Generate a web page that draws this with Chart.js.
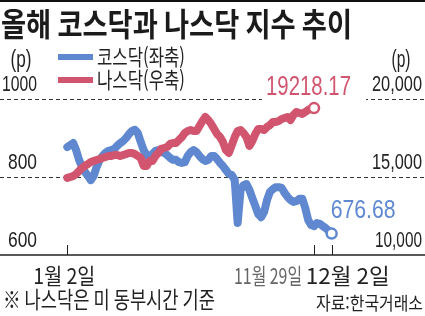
<!DOCTYPE html>
<html lang="ko">
<head>
<meta charset="utf-8">
<script src="https://cdn.jsdelivr.net/npm/chart.js@4.4.1/dist/chart.umd.min.js"></script>
<style>
  html, body { margin: 0; padding: 0; background: #fff; }
  #wrap { width: 425px; height: 316px; }
</style>
</head>
<body>
<div id="wrap"><canvas id="myChart" width="425" height="316"></canvas></div>
<script>
const titleText = '올해 코스닥과 나스닥 지수 추이';
const seriesNames = ['코스닥(좌축)', '나스닥(우축)'];
const leftTicks = [600, 800, 1000];
const rightTicks = [10000, 15000, 20000];
const rightTickText = ['10,000', '15,000', '20,000'];
const dateLabels = ['1월 2일', '11월 29일', '12월 2일'];
const dateIndex = [0, 84, 90];
const noteText = '※ 나스닥은 미 동부시간 기준';
const sourceText = '자료:한국거래소';
const lastKosdaqText = '676.68';
const lastNasdaqText = '19218.17';

// 코스닥 (좌축), 1월 2일 ~ 12월 2일
const kosdaq = [
  877, 882, 887, 869, 844, 826, 813, 803, 792, 803,
  826, 844, 854, 862, 867, 869, 872, 880, 887, 892,
  900, 910, 918, 921, 913, 890, 869, 856, 851, 859,
  867, 869, 864, 862, 856, 849, 844, 844, 838, 836,
  838, 854, 864, 869, 864, 854, 846, 841, 844, 854,
  854, 846, 836, 828, 818, 808, 805, 792, 682, 767,
  779, 782, 767, 746, 726, 705, 697, 710, 741, 762,
  769, 774, 774, 772, 759, 749, 741, 736, 738, 744,
  744, 721, 690, 677, 674, 682, 680, 674, 669, 662, 655
];

// 나스닥 (우축), 1월 2일 ~ 11월 29일
const nasdaq = [
  14940, 15000, 15060, 15190, 15390, 15580, 15710, 15830, 15960, 16030,
  16090, 16150, 16220, 16280, 16350, 16350, 16410, 16410, 16350, 16410,
  16470, 16540, 16540, 16470, 16350, 16220, 15710, 15710, 16030, 16030,
  16350, 16540, 16800, 16860, 16920, 17120, 17180, 17180, 17370, 17560,
  17820, 17950, 18010, 17950, 17950, 18270, 18590, 18850, 18650, 18400,
  18080, 17760, 17560, 17240, 16730, 16540, 17050, 17560, 17950, 18010,
  17820, 17560, 16990, 17310, 17760, 18080, 18080, 18010, 18210, 18330,
  18530, 18530, 18590, 18720, 18780, 18850, 18650, 18970, 19170, 19100,
  19040, 19170, 19300, 19360, 19420
];

const blue = '#5f88d1';
const red = '#d2556f';
const KR = '"Noto Sans CJK KR", "Noto Sans", sans-serif';
const NUM = '"Liberation Sans", Arial, sans-serif';

// 1월 2일 -> 62px, 12월 2일 -> 336px
const xMin = -62 / 274 * 90;
const xMax = 90 + (425 - 336) / 274 * 90;

function fitText(ctx, text, x, y, font, color, width, align) {
  ctx.save();
  ctx.font = font;
  ctx.fillStyle = color;
  ctx.textBaseline = 'alphabetic';
  ctx.textAlign = 'left';
  const w = ctx.measureText(text).width;
  const sx = width ? width / w : 1;
  let x0 = x;
  if (align === 'right') x0 = x - w * sx;
  else if (align === 'center') x0 = x - w * sx / 2;
  ctx.translate(x0, y);
  ctx.scale(sx, 1);
  ctx.fillText(text, 0, 0);
  ctx.restore();
}

function hline(ctx, x1, x2, y) {
  ctx.beginPath();
  ctx.moveTo(x1, y);
  ctx.lineTo(x2, y);
  ctx.stroke();
}

const frame = {
  id: 'frame',
  beforeDatasetsDraw(chart) {
    const ctx = chart.ctx;
    const yL = chart.scales.y;
    const xS = chart.scales.x;
    const W = chart.width;
    ctx.save();
    // 점선 눈금선
    ctx.strokeStyle = '#333';
    ctx.lineWidth = 1;
    ctx.setLineDash([4, 3]);
    for (let v of leftTicks.slice(1)) {
      hline(ctx, 0, W, Math.round(yL.getPixelForValue(v)) + 0.5);
    }
    ctx.setLineDash([]);
    // 나스닥 라벨 뒤 흰 바탕
    ctx.fillStyle = '#fff';
    ctx.fillRect(262, 92, 104, 12);
    // x축
    const by = Math.round(yL.getPixelForValue(leftTicks[0]));
    ctx.strokeStyle = '#222';
    ctx.lineWidth = 1.5;
    hline(ctx, 0, W, by);
    ctx.lineWidth = 1;
    for (let i of dateIndex) {
      const px = Math.round(xS.getPixelForValue(i)) + 0.5;
      ctx.beginPath();
      ctx.moveTo(px, by - 10);
      ctx.lineTo(px, by);
      ctx.stroke();
    }
    ctx.restore();
  },
  afterDraw(chart) {
    const ctx = chart.ctx;
    const yL = chart.scales.y;
    const yR = chart.scales.y2;
    const xS = chart.scales.x;

    // 윗선
    ctx.fillStyle = '#111';
    ctx.fillRect(0, 0, 425, 2);

    fitText(ctx, titleText, 1, 36, 'bold 32px ' + KR, '#1b1b1b', 351, 'left');

    fitText(ctx, '(p)', 21, 67, '23px ' + NUM, '#222', 21, 'center');
    fitText(ctx, '(p)', 401, 67, '23px ' + NUM, '#222', 19, 'center');

    // 범례
    ctx.fillStyle = blue;
    ctx.fillRect(58, 54, 35, 6);
    ctx.fillStyle = red;
    ctx.fillRect(58, 77, 35, 6);
    fitText(ctx, seriesNames[0], 97, 65, '22px ' + KR, '#222', 88, 'left');
    fitText(ctx, seriesNames[1], 97, 88, '22px ' + KR, '#222', 88, 'left');

    // 좌축 / 우축 라벨
    const leftW = [29, 29, 35];
    leftTicks.forEach((v, k) => {
      fitText(ctx, String(v), 37, yL.getPixelForValue(v) - 8, '22px ' + NUM, '#222', leftW[k], 'right');
    });
    const rightW = [47, 50, 50];
    rightTicks.forEach((v, k) => {
      fitText(ctx, rightTickText[k], 422, yR.getPixelForValue(v) - 8, '22px ' + NUM, '#222', rightW[k], 'right');
    });

    // 마지막 값
    const kEnd = kosdaq.length - 1;
    const nEnd = nasdaq.length - 1;
    const kx = xS.getPixelForValue(kEnd), ky = yL.getPixelForValue(kosdaq[kEnd]);
    const nx = xS.getPixelForValue(nEnd), ny = yR.getPixelForValue(nasdaq[nEnd]);
    fitText(ctx, lastNasdaqText, nx - 48, ny - 13, '28px ' + NUM, red, 85, 'left');
    fitText(ctx, lastKosdaqText, kx - 1, ky - 16, '26px ' + NUM, blue, 65, 'left');

    // 날짜 라벨
    const x0 = xS.getPixelForValue(dateIndex[0]);
    const x1 = xS.getPixelForValue(dateIndex[1]);
    const x2 = xS.getPixelForValue(dateIndex[2]);
    fitText(ctx, dateLabels[0], x0 - 3, 284, '22px ' + KR, '#222', 62, 'center');
    fitText(ctx, dateLabels[1], x1 - 12, 284, '22px ' + KR, '#666', 68, 'right');
    fitText(ctx, dateLabels[2], x2 - 26, 284, '22px ' + KR, '#222', 84, 'left');

    fitText(ctx, noteText, 3, 308, '23px ' + KR, '#222', 212, 'left');
    fitText(ctx, sourceText, 423, 310, '18px ' + KR, '#222', 107, 'right');
  }
};

const endPoint = (c) => c.dataIndex === c.dataset.data.length - 1 ? 5 : 0;

const ctx1 = document.getElementById('myChart');
myChart = new Chart(ctx1, {
  type: 'line',
  data: {
    datasets: [
      {
        label: seriesNames[0],
        data: kosdaq.map((v, i) => ({ x: i, y: v })),
        yAxisID: 'y',
        borderColor: blue,
        borderWidth: 8,
        borderJoinStyle: 'round',
        borderCapStyle: 'round',
        tension: 0,
        pointRadius: endPoint,
        pointBackgroundColor: '#fff',
        pointBorderColor: blue,
        pointBorderWidth: 2.5,
        order: 1
      },
      {
        label: seriesNames[1],
        data: nasdaq.map((v, i) => ({ x: i, y: v })),
        yAxisID: 'y2',
        borderColor: red,
        borderWidth: 8,
        borderJoinStyle: 'round',
        borderCapStyle: 'round',
        tension: 0,
        pointRadius: endPoint,
        pointBackgroundColor: '#fff',
        pointBorderColor: red,
        pointBorderWidth: 2.5,
        order: 0
      }
    ]
  },
  options: {
    responsive: false,
    animation: false,
    devicePixelRatio: 1,
    layout: { padding: { top: 99, bottom: 61, left: 0, right: 0 } },
    plugins: {
      legend: { display: false },
      tooltip: { enabled: false },
      title: { display: false }
    },
    scales: {
      x: { type: 'linear', display: false, min: xMin, max: xMax },
      y: { display: false, min: 600, max: 1000 },
      y2: { display: false, min: 10000, max: 20000 }
    }
  },
  plugins: [frame]
});
</script>
</body>
</html>
